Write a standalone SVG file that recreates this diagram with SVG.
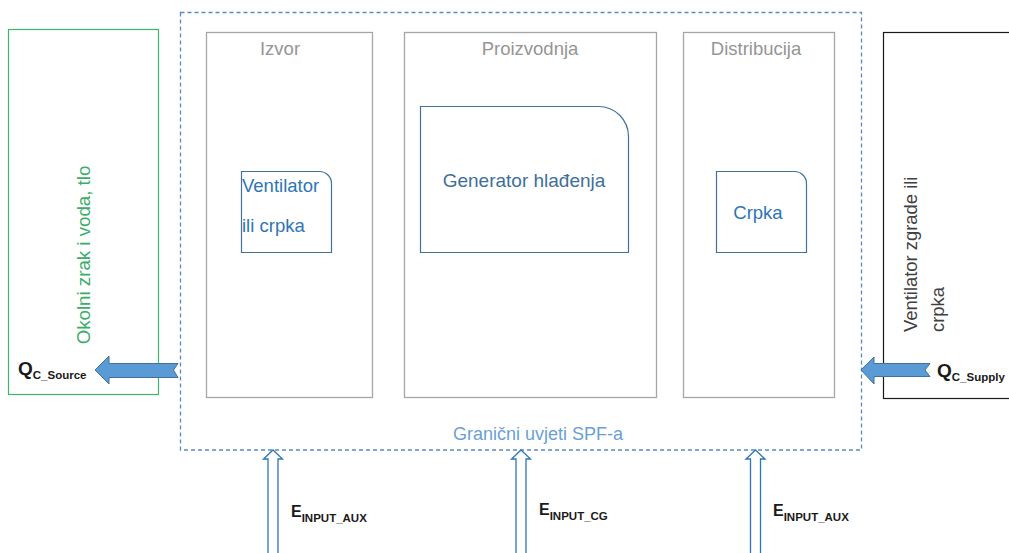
<svg xmlns="http://www.w3.org/2000/svg" width="1009" height="553" viewBox="0 0 1009 553">
  <defs>
    <style>
      text { font-family: "Liberation Sans", Arial, sans-serif; }
      .col { fill: #ffffff; stroke: #a6a6a6; stroke-width: 1.3; }
      .colTitle { fill: #959595; font-size: 18.5px; text-anchor: middle; }
      .unit { fill: #ffffff; stroke: #41719c; stroke-width: 1.2; }
      .unitTxt { fill: #2e75b6; font-size: 18.5px; }
      .bold { font-weight: bold; fill: #1a1a1a; }
      .sub { font-size: 11.5px; }
      .flow { fill: #5b9bd5; stroke: #41719c; stroke-width: 1; }
      .input { fill: #ffffff; stroke: #2e75b6; stroke-width: 1.3; }
    </style>
  </defs>

  <rect width="1009" height="553" fill="#ffffff"/>

  <!-- surroundings: source side -->
  <g id="okolina">
    <rect x="8.5" y="29.5" width="150" height="365" fill="#ffffff" stroke="#3cb56d" stroke-width="1.2"/>
    <text transform="translate(90,255) rotate(-90)" text-anchor="middle" font-size="18.7" fill="#3aae68">Okolni zrak i voda, tlo</text>
  </g>

  <!-- surroundings: building side -->
  <g id="zgrada">
    <rect x="883.5" y="32.5" width="140" height="366" fill="#ffffff" stroke="#1a1a1a" stroke-width="1.2"/>
    <text transform="translate(917,332) rotate(-90)" font-size="18.4" fill="#404040">Ventilator zgrade ili</text>
    <text transform="translate(944,332) rotate(-90)" font-size="18.4" fill="#404040">crpka</text>
  </g>

  <!-- SPF system boundary -->
  <g id="granica">
    <rect x="180.5" y="12.5" width="681" height="437.5" fill="none" stroke="#5a8ac6" stroke-width="1.3" stroke-dasharray="4 3"/>
    <text x="453" y="440" font-size="18" fill="#6a9fd6">Granični uvjeti SPF-a</text>
  </g>

  <!-- subsystem columns -->
  <g id="izvor">
    <rect class="col" x="206.5" y="32.5" width="166" height="365"/>
    <text class="colTitle" x="280" y="55">Izvor</text>
  </g>
  <g id="proizvodnja">
    <rect class="col" x="404.5" y="32.5" width="252" height="365"/>
    <text class="colTitle" x="530" y="55">Proizvodnja</text>
  </g>
  <g id="distribucija">
    <rect class="col" x="683.5" y="32.5" width="151" height="365"/>
    <text class="colTitle" x="756" y="55">Distribucija</text>
  </g>

  <!-- components -->
  <g id="ventilator">
    <path class="unit" d="M241.5,171.5 H319.5 A12,12 0 0 1 331.5,183.5 V252.5 H241.5 Z"/>
    <text class="unitTxt" x="242" y="192">Ventilator</text>
    <text class="unitTxt" x="242" y="232">ili crpka</text>
  </g>
  <g id="generator">
    <path class="unit" d="M420.5,106.5 H598.5 A30,30 0 0 1 628.5,136.5 V252.5 H420.5 Z"/>
    <text x="524" y="187" font-size="19" fill="#3d6f9a" text-anchor="middle">Generator hlađenja</text>
  </g>
  <g id="crpka">
    <path class="unit" d="M716.5,171.5 H794.5 A12,12 0 0 1 806.5,183.5 V252.5 H716.5 Z"/>
    <text class="unitTxt" x="758" y="219" text-anchor="middle">Crpka</text>
  </g>

  <!-- energy flows -->
  <g id="connectors">
    <polygon class="flow" points="95,370 109,356 109,363.5 178,363.5 173.5,370 178,377.5 109,377.5 109,384"/>
    <polygon class="flow" points="861,370 874,357 874,363.5 930,363.5 925,370 930,376.5 874,376.5 874,384"/>
    <polygon class="input" points="273,450 282.5,459 278,459 278,554 268,554 268,459 263.5,459"/>
    <polygon class="input" points="521,450 530.5,459 526,459 526,554 516,554 516,459 511.5,459"/>
    <polygon class="input" points="755.5,450 765,459 760.5,459 760.5,554 750.5,554 750.5,459 746,459"/>
  </g>

  <!-- flow labels -->
  <g id="labels">
    <text class="bold" x="18" y="375" font-size="19">Q<tspan class="sub" dy="4">C_Source</tspan></text>
    <text class="bold" x="937" y="377" font-size="19">Q<tspan class="sub" dy="4">C_Supply</tspan></text>
    <text class="bold" x="291" y="517" font-size="16">E<tspan class="sub" dy="5">INPUT_AUX</tspan></text>
    <text class="bold" x="539" y="515" font-size="16">E<tspan class="sub" dy="5">INPUT_CG</tspan></text>
    <text class="bold" x="773" y="516" font-size="16">E<tspan class="sub" dy="5">INPUT_AUX</tspan></text>
  </g>
</svg>
